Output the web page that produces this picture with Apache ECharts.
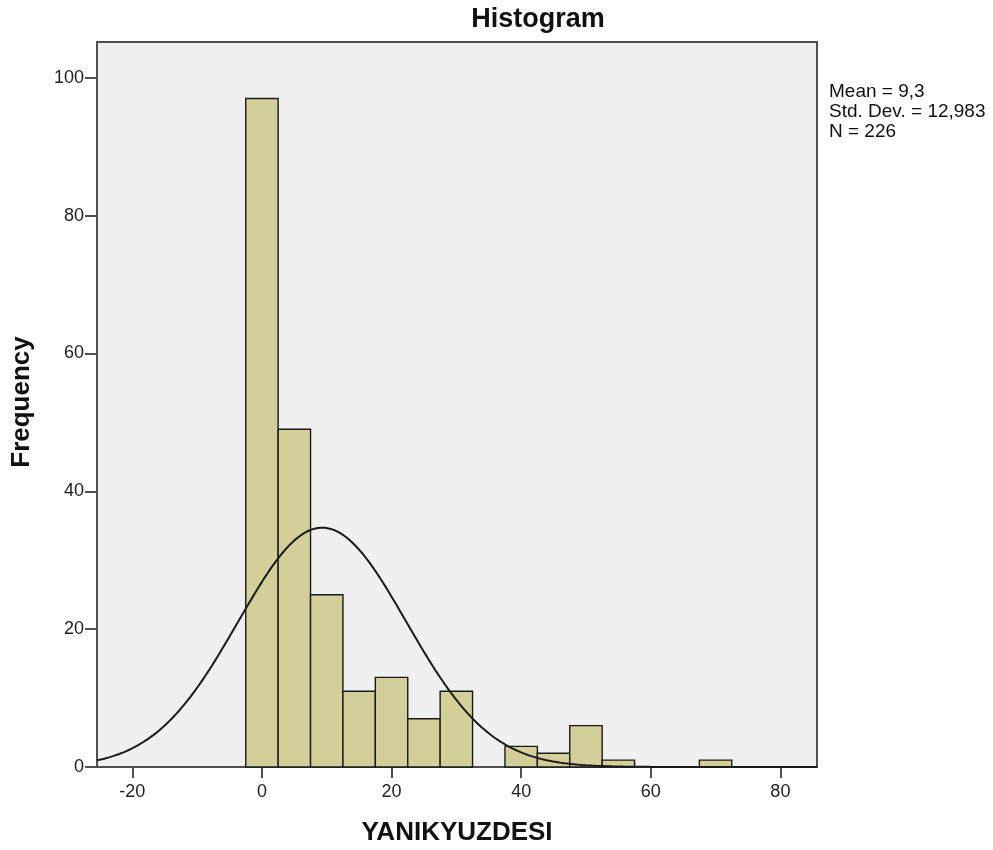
<!DOCTYPE html>
<html><head><meta charset="utf-8">
<script src="https://cdn.jsdelivr.net/npm/echarts@6/dist/echarts.min.js"></script>
<style>html,body{margin:0;padding:0;background:#fff}#c{width:993px;height:850px}</style>
</head><body><div id="c"></div>
<script>
// Histogram bins (lower edge, upper edge) and frequencies
const binStarts = [-2.5, 2.5, 7.5, 12.5, 17.5, 22.5, 27.5, 32.5, 37.5, 42.5, 47.5, 52.5, 57.5, 62.5, 67.5];
const binWidth = 5;
const frequencies = [97, 49, 25, 11, 13, 7, 11, 0, 3, 2, 6, 1, 0, 0, 1];
const xTicks = [-20, 0, 20, 40, 60, 80];
const yTicks = [0, 20, 40, 60, 80, 100];
// Summary statistics shown in the chart
const statMean = 9.3;
const statSD = 12.983;
const statN = 226;
const statLines = ['Mean = 9,3', 'Std. Dev. = 12,983', 'N = 226'];

const xMin = -25.45, xMax = 85.65, yMax = 105.2;

const barData = binStarts.map((s, i) => [s, s + binWidth, frequencies[i]]);

// Fitted normal curve from the displayed mean, SD and N
const curve = [];
const steps = 300;
for (let i = 0; i <= steps; i++) {
  const x = xMin + (xMax - xMin) * i / steps;
  const z = (x - statMean) / statSD;
  const y = statN * binWidth / (statSD * Math.sqrt(2 * Math.PI)) * Math.exp(-0.5 * z * z);
  curve.push([x, y]);
}

const font = '"Liberation Sans", Arial, sans-serif';
const axisColor = '#505050';
const chart = echarts.init(document.getElementById('c'));
chart.setOption({
  animation: false,
  grid: {left: 97, right: 176, top: 42, bottom: 83, show: true, backgroundColor: '#f0f0f0', borderColor: axisColor, borderWidth: 2},
  xAxis: {
    type: 'value', min: xMin, max: xMax,
    axisLine: {show: true, onZero: false, lineStyle: {color: axisColor, width: 2}},
    axisTick: {show: true, inside: false, length: 11, lineStyle: {color: axisColor, width: 2},
      customValues: xTicks},
    axisLabel: {color: '#222', fontSize: 18, fontFamily: font, margin: 16, customValues: xTicks},
    splitLine: {show: false}
  },
  yAxis: {
    type: 'value', min: 0, max: yMax,
    axisLine: {show: true, onZero: false, lineStyle: {color: axisColor, width: 2}},
    axisTick: {show: true, inside: false, length: 12, lineStyle: {color: axisColor, width: 2}, customValues: yTicks},
    axisLabel: {color: '#222', fontSize: 18, fontFamily: font, margin: 13, customValues: yTicks},
    splitLine: {show: false}
  },
  series: [
    {
      type: 'custom',
      data: barData,
      encode: {x: [0, 1], y: 2},
      renderItem: function (params, api) {
        const p0 = api.coord([api.value(0), 0]);
        const p1 = api.coord([api.value(1), api.value(2)]);
        if (api.value(2) <= 0) return null;
        return {
          type: 'rect',
          shape: {x: p0[0], y: p1[1], width: p1[0] - p0[0], height: p0[1] - p1[1]},
          style: {fill: '#d3cf98', stroke: '#1a1a1a', lineWidth: 1.4}
        };
      },
      z: 2
    },
    {
      type: 'line', data: curve, showSymbol: false, smooth: false,
      lineStyle: {color: '#1a1a1a', width: 2}, z: 3
    }
  ],
  graphic: [
    {type: 'text', x: 538, y: 20, style: {text: 'Histogram', font: 'bold 27px ' + font, fill: '#111', align: 'center', verticalAlign: 'middle'}},
    {type: 'text', x: 829, y: 82, style: {text: statLines.join('\n'), font: '19px ' + font, lineHeight: 20, fill: '#111'}},
    {type: 'text', x: 457, y: 833, style: {text: 'YANIKYUZDESI', font: 'bold 26px ' + font, fill: '#111', align: 'center', verticalAlign: 'middle'}},
    {type: 'text', x: 22, y: 402, rotation: Math.PI / 2, style: {text: 'Frequency', font: 'bold 26px ' + font, fill: '#111', align: 'center', verticalAlign: 'middle'}}
  ]
});
</script></body></html>
